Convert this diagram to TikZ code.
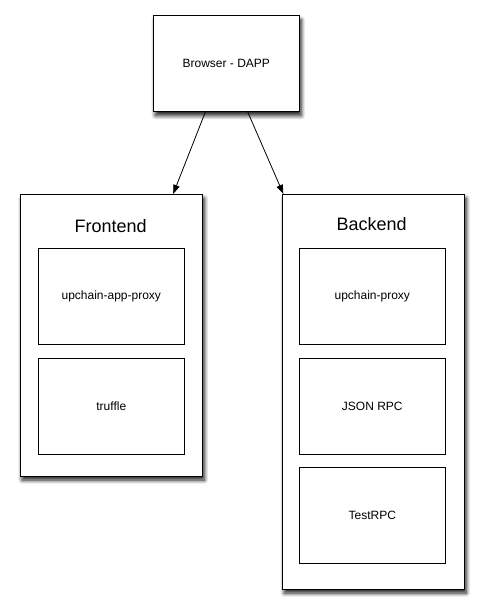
\documentclass[tikz,border=0pt]{standalone}
\usepackage{fontspec}
\setmainfont{Liberation Sans}
\usetikzlibrary{shadows.blur,arrows.meta}
\begin{document}
\begin{tikzpicture}[x=1pt,y=-1pt,
  outerbox/.style={draw=black, line width=1pt, fill=white, inner sep=0pt,
    blur shadow={shadow xshift=2pt, shadow yshift=-4pt, shadow blur radius=4pt, shadow blur steps=10, shadow opacity=90}},
  innerbox/.style={draw=black, line width=0.8pt, fill=white, inner sep=0pt,
    minimum width=146pt, minimum height=95.7pt, font=\fontsize{12}{14}\selectfont},
  title/.style={font=\fontsize{18}{21}\selectfont, inner sep=0pt},
  conn/.style={line width=0.8pt, -{Triangle[length=9pt,width=6.5pt]}}]
\useasboundingbox (0,0) rectangle (484,613);
\node[outerbox, minimum width=146pt, minimum height=95.7pt, font=\fontsize{12}{14}\selectfont] (browser) at (226.3,63.8) {Browser - DAPP};
\node[outerbox, minimum width=182.3pt, minimum height=281.7pt] (front) at (111.2,335.2) {};
\node[outerbox, minimum width=182pt, minimum height=394.7pt] (back) at (373.3,391.7) {};
\node[title] (ftitle) at (110.7,225.7) {Frontend};
\node[title] (btitle) at (371.7,224.5) {Backend};
\node[innerbox] (f1) at (111.3,296.2) {upchain-app-proxy};
\node[innerbox] (f2) at (111.3,406.2) {truffle};
\node[innerbox] (b1) at (372.3,296.2) {upchain-proxy};
\node[innerbox] (b2) at (372.3,406.2) {JSON RPC};
\node[innerbox] (b3) at (372.3,515.2) {TestRPC};
\draw[conn] ([xshift=-21pt]browser.south) -- ([xshift=62pt]front.north);
\draw[conn] ([xshift=21.5pt]browser.south) -- ([xshift=-90pt]back.north);
\end{tikzpicture}
\end{document}
